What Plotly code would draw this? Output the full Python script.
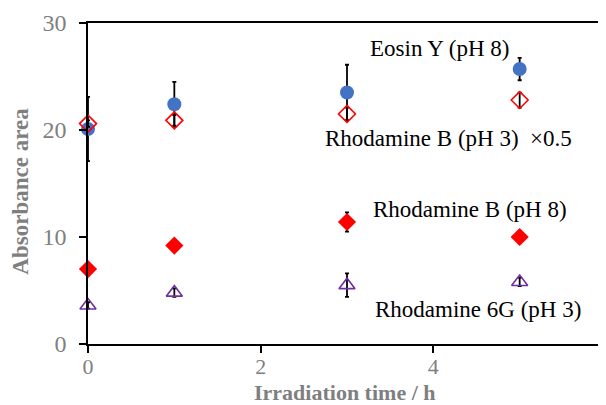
import plotly.graph_objects as go

x_vals = [0, 1, 3, 5]

eosin_y = [20.1, 22.4, 23.5, 25.7]
eosin_err = [3.0, 2.1, 2.6, 1.05]

rhb3_y = [20.6, 20.9, 21.5, 22.8]
rhb3_err = [0.3, 0.5, 0.6, 0.7]

rhb8_y = [7.0, 9.2, 11.4, 10.0]
rhb8_err = [0.2, 0.5, 0.9, 0.1]

rh6g_y = [3.6, 4.8, 5.5, 5.8]
rh6g_err = [0.3, 0.4, 1.1, 0.4]

labels = ["Eosin Y (pH 8)", "Rhodamine B (pH 3)  \u00d70.5",
          "Rhodamine B (pH 8)", "Rhodamine 6G (pH 3)"]
label_x = [4.075, 4.18, 4.43, 4.52]
label_y = [27.6, 19.25, 12.6, 3.18]

x_title = "Irradiation time / h"
y_title = "Absorbance area"

FONT = "Liberation Serif"
GRAY = "#7f7f7f"

fig = go.Figure()

def err(vals):
    return dict(type="data", array=vals, visible=True, color="black",
                thickness=1.8, width=2)

fig.add_trace(go.Scatter(x=x_vals, y=eosin_y, mode="markers", error_y=err(eosin_err),
                         marker=dict(symbol="circle", size=14, color="#4472C4"),
                         cliponaxis=False, name=labels[0]))
fig.add_trace(go.Scatter(x=x_vals, y=rhb3_y, mode="markers", error_y=err(rhb3_err),
                         marker=dict(symbol="diamond-open", size=13, color="#FF0000",
                                     line=dict(width=1.6, color="#FF0000")),
                         cliponaxis=False, name=labels[1]))
fig.add_trace(go.Scatter(x=x_vals, y=rhb8_y, mode="markers", error_y=err(rhb8_err),
                         marker=dict(symbol="diamond", size=14, color="#FF0000"),
                         cliponaxis=False, name=labels[2]))
fig.add_trace(go.Scatter(x=x_vals, y=rh6g_y, mode="markers", error_y=err(rh6g_err),
                         marker=dict(symbol="triangle-up-open", size=14, color="#7030A0",
                                     line=dict(width=1.6, color="#7030A0")),
                         cliponaxis=False, name=labels[3]))

for t, lx, ly in zip(labels, label_x, label_y):
    fig.add_annotation(x=lx, y=ly, text=t, showarrow=False, xref="x", yref="y",
                       font=dict(family=FONT, size=23, color="black"))

# axis titles
fig.add_annotation(x=0.497, y=0, xref="paper", yref="paper", xanchor="center",
                   yanchor="top", yshift=-34,
                   text="<b>" + x_title + "</b>", showarrow=False,
                   font=dict(family=FONT, size=22, color=GRAY))
fig.add_annotation(x=-0.131, y=0.475, xref="paper", yref="paper", textangle=-90,
                   xanchor="center", yanchor="middle",
                   text="<b>" + y_title + "</b>", showarrow=False,
                   font=dict(family=FONT, size=23, color=GRAY))

fig.update_layout(
    width=598, height=397,
    margin=dict(l=80, r=0, t=15, b=61),
    paper_bgcolor="white", plot_bgcolor="white",
    showlegend=False,
    font=dict(family=FONT, size=23, color=GRAY),
)
fig.update_xaxes(range=[0, 6], tickvals=[0, 2, 4, 6], showgrid=False, zeroline=False,
                 showline=True, linecolor="black", linewidth=1.5, mirror=True,
                 ticks="outside", ticklen=7, tickcolor="black", tickwidth=1.5,
                 ticklabelstandoff=-5, automargin=False,
                 tickfont=dict(family=FONT, size=22, color=GRAY))
fig.update_yaxes(range=[0, 30], tickvals=[0, 10, 20, 30], showgrid=False, zeroline=False,
                 showline=True, linecolor="black", linewidth=1.5,
                 ticks="outside", ticklen=7, tickcolor="black", tickwidth=1.5,
                 ticklabelstandoff=8, automargin=False,
                 tickfont=dict(family=FONT, size=24, color=GRAY))

fig.write_html("out.html")
